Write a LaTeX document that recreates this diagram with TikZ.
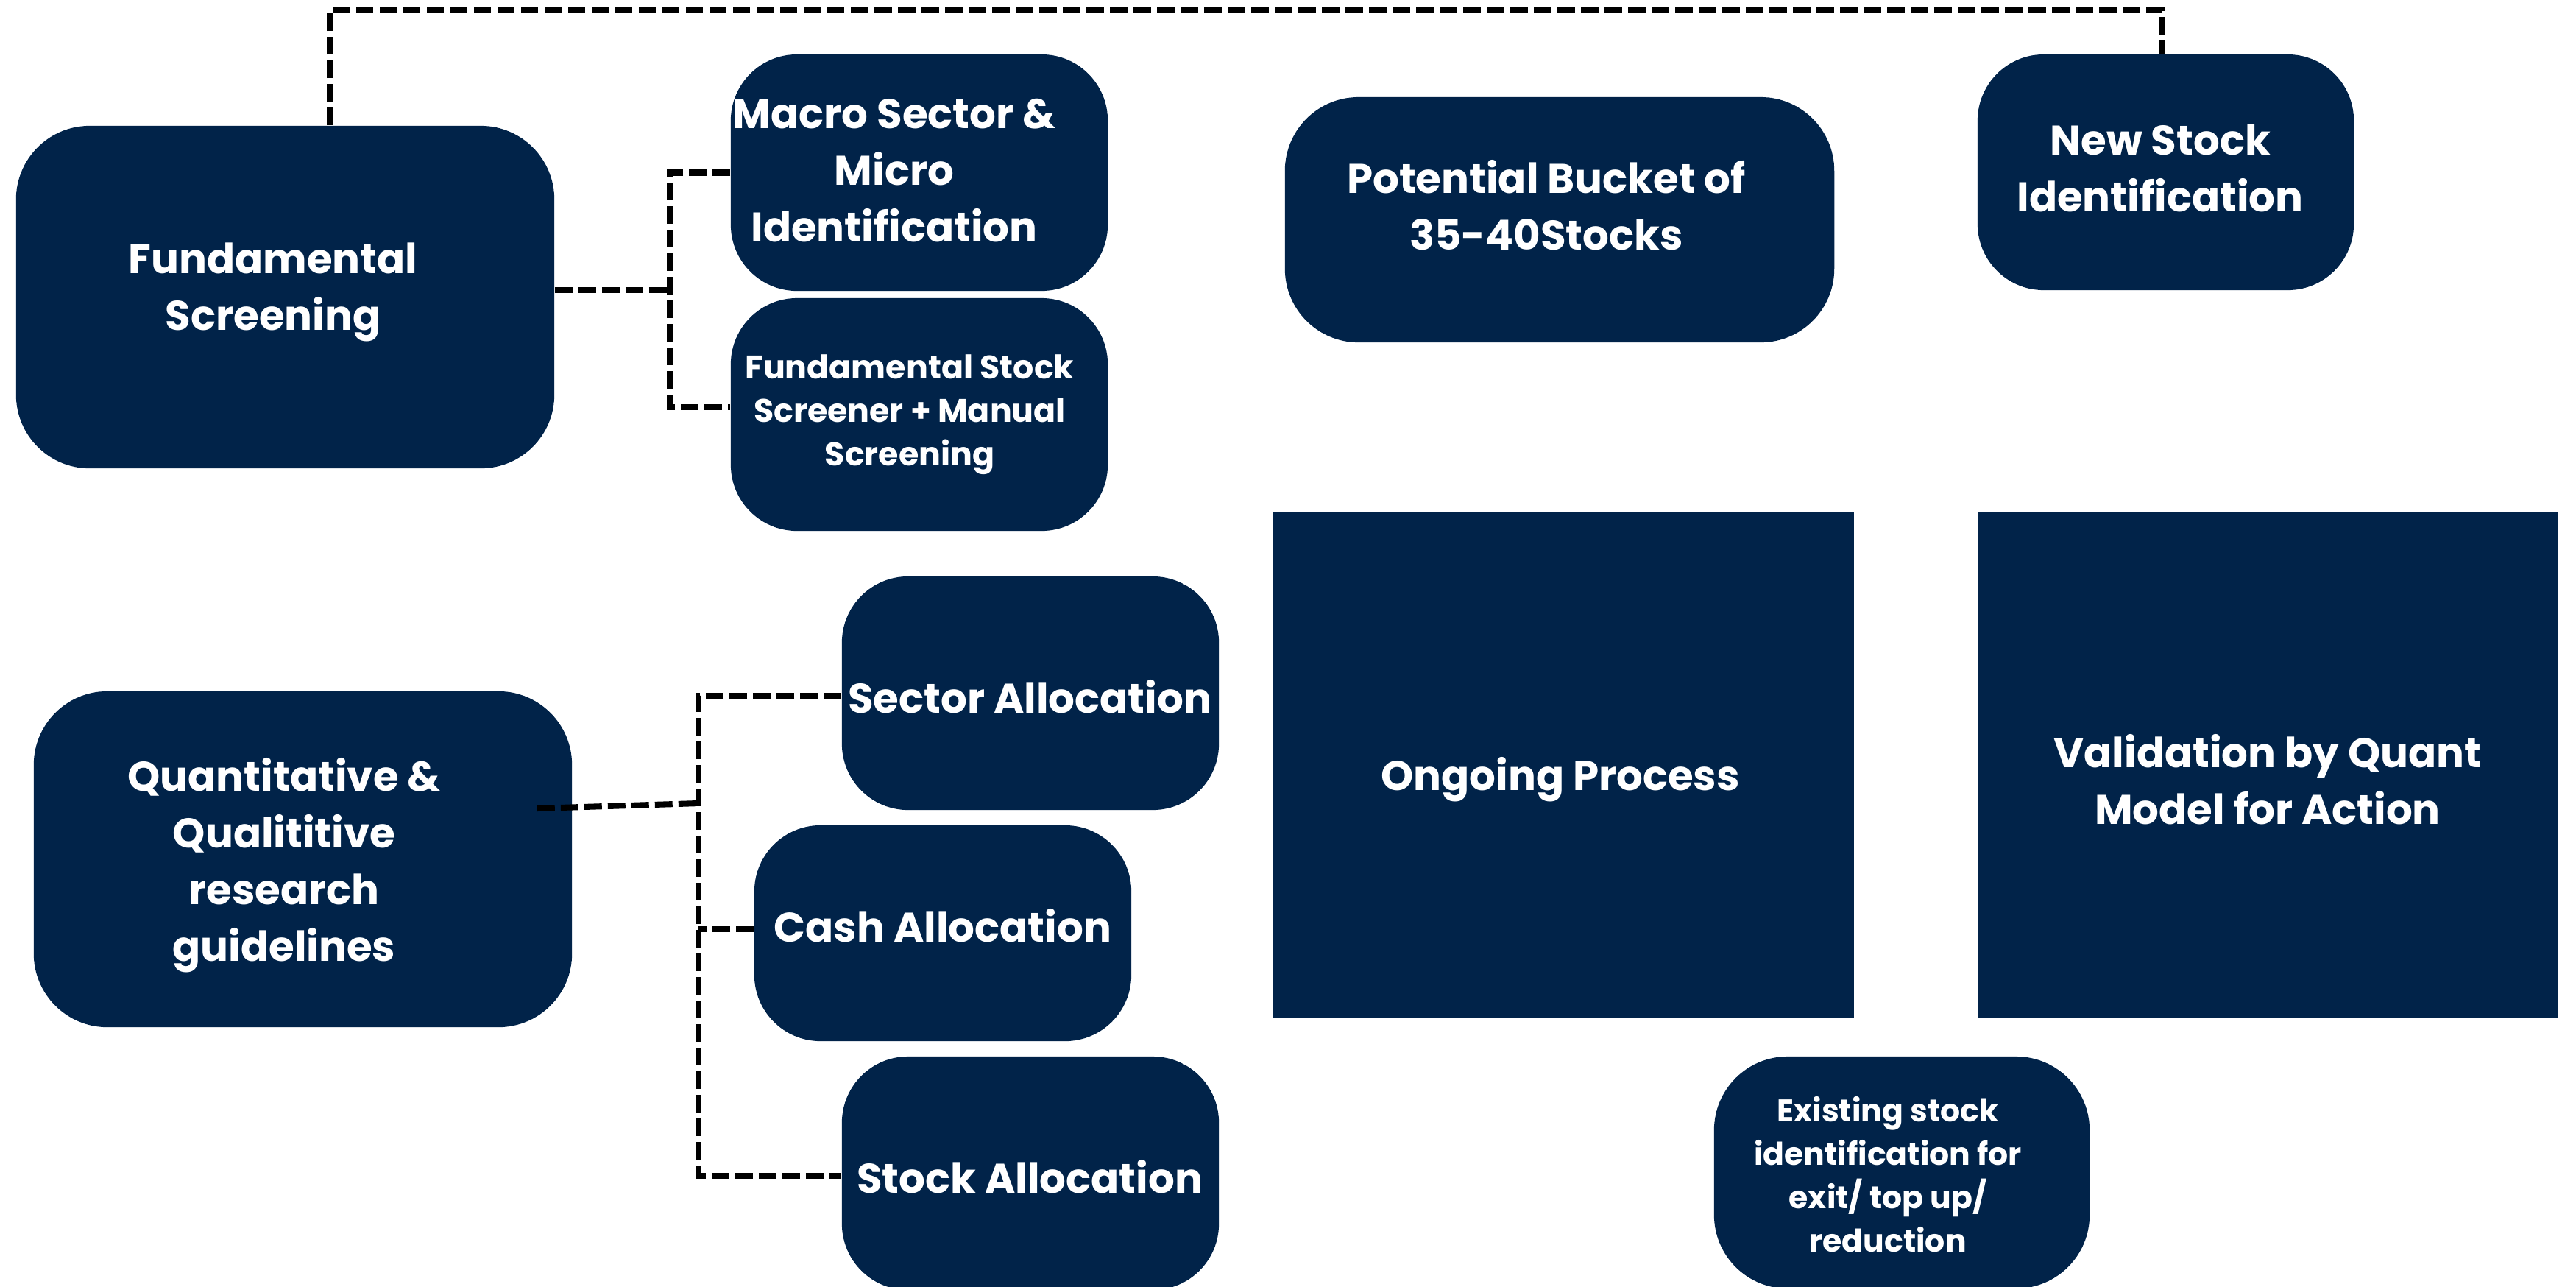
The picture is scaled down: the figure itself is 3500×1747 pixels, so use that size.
\documentclass[tikz,border=0pt]{standalone}
\usepackage{fontspec}
\setmainfont{Poppins}
\definecolor{navy}{RGB}{1,35,73}
\begin{document}
\begin{tikzpicture}[x=0.01cm,y=-0.01cm,
  box/.style={fill=navy, draw=none, rounded corners=0.9cm, inner sep=0pt},
  sq/.style={fill=navy, draw=none, inner sep=0pt},
  big/.style={text=white, font=\bfseries\fontsize{16}{21.9}\selectfont, align=center, inner sep=0pt},
  small/.style={text=white, font=\bfseries\fontsize{12.6}{16.8}\selectfont, align=center, inner sep=0pt},
  dl/.style={line width=2.3pt, dash pattern=on 6.8pt off 2.3pt}]
\useasboundingbox (0,0) rectangle (3500,1747);
% boxes
\node[box, rounded corners=1cm, minimum width=7.31cm, minimum height=4.65cm] (fs) at (387.5,403.5) {};
\node[box, minimum width=5.12cm, minimum height=3.21cm] (macro) at (1249,234.5) {};
\node[box, minimum width=5.12cm, minimum height=3.16cm] (fstock) at (1249,563) {};
\node[box, rounded corners=1cm, minimum width=7.46cm, minimum height=3.33cm] (pot) at (2119,298.5) {};
\node[box, minimum width=5.11cm, minimum height=3.20cm] (newst) at (2942.5,234) {};
\node[box, rounded corners=1cm, minimum width=7.31cm, minimum height=4.56cm] (quant) at (411.5,1167) {};
\node[box, minimum width=5.12cm, minimum height=3.17cm] (sector) at (1400,941.5) {};
\node[box, minimum width=5.12cm, minimum height=2.93cm] (cash) at (1281,1267.5) {};
\node[box, minimum width=5.12cm, minimum height=3.17cm] (stock) at (1400,1593.5) {};
\node[sq, minimum width=7.89cm, minimum height=6.88cm] (ongo) at (2124.5,1039) {};
\node[sq, minimum width=7.89cm, minimum height=6.88cm] (valid) at (3081.5,1039) {};
\node[box, rounded corners=1cm, minimum width=5.10cm, minimum height=3.15cm] (exist) at (2584,1592.5) {};
% texts
\node[big] (fst) at (371,397) {Fundamental\\Screening};
\node[big] (macrot) at (1215,232) {Macro Sector \&\\Micro\\Identification};
\node[small] (fstockt) at (1236,563) {Fundamental Stock\\Screener + Manual\\Screening};
\node[big] (pott) at (2101,279) {Potential Bucket of\\35-40Stocks};
\node[big] (newstt) at (2935,228) {New Stock\\Identification};
\node[big] (quantt) at (386,1175) {Quantitative \&\\Qualititive\\research\\guidelines};
\node[big] (sectort) at (1399,946) {Sector Allocation};
\node[big] (casht) at (1281,1257) {Cash Allocation};
\node[big] (stockt) at (1399,1598) {Stock Allocation};
\node[big] (ongot) at (2120,1059) {Ongoing Process};
\node[big] (validt) at (3081,1059) {Validation by Quant\\Model for Action};
\node[small, font=\bfseries\fontsize{12.1}{16.8}\selectfont] (existt) at (2565,1595) {Existing stock\\identification for\\exit/ top up/\\reduction};
% connectors
\draw[dl] ([xshift=0.61cm]fs.north) -- ++(0,-157) -| ([xshift=-0.045cm]newst.north);
\draw[dl] ([yshift=0.095cm]fs.east) -- ++(156,0) coordinate (b1);
\draw[dl] (macro.west) -| (b1) |- ([yshift=0.1cm]fstock.west);
\draw[dl] ([xshift=-0.48cm,yshift=0.69cm]quant.east) -- (949,1091) coordinate (b2);
\draw[dl] ([yshift=-0.035cm]sector.west) -| (b2) |- ([yshift=-0.035cm]stock.west);
\draw[dl] ([yshift=0.055cm]cash.west) -- ([yshift=0.055cm]cash.west -| b2);
\end{tikzpicture}
\end{document}
